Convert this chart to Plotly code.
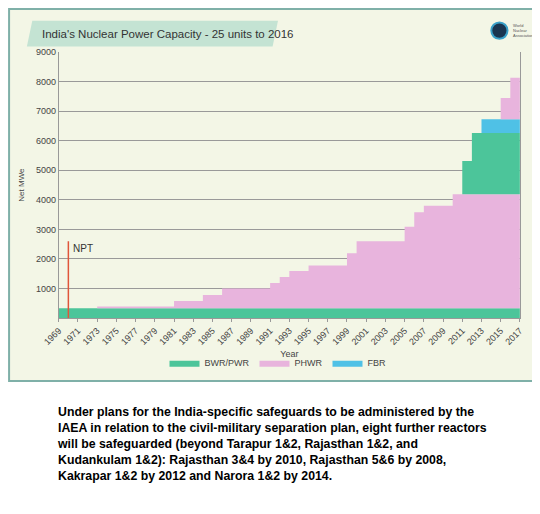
import plotly.graph_objects as go

# Years (step starts), stacked layer heights in MWe
years = list(range(1969, 2018))
phwr_total = {1969: 330, 1973: 385, 1981: 575, 1984: 780, 1986: 1000, 1991: 1180,
              1992: 1385, 1993: 1590, 1995: 1780, 1999: 2190, 2000: 2600,
              2005: 3090, 2006: 3580, 2007: 3800, 2010: 4190}
kk_top = {2011: 5315, 2012: 6260}
fbr_top = {2013: 6730}
phwr_top = {2015: 7450, 2016: 8135}


def step(d, start=0):
    out, cur = [], start
    for y in years:
        cur = d.get(y, cur)
        out.append(cur)
    return out


bwr_base = [330] * len(years)
phwr_main = [t - 330 for t in step(phwr_total, 330)]
kk = [max(0, t - 4190) for t in step(kk_top, 4190)]
fbr = [max(0, t - 6260) if y >= 2013 else 0 for y, t in zip(years, step(fbr_top, 6260))]
phwr_up = [max(0, t - 6730) if y >= 2015 else 0 for y, t in zip(years, step(phwr_top, 6730))]

green, pink, blue = '#4cc59a', '#e8b4dd', '#4fc1e6'
fig = go.Figure()
layers = [('BWR/PWR', bwr_base, green, True), ('PHWR', phwr_main, pink, True),
          ('BWR/PWR', kk, green, False), ('FBR', fbr, blue, True),
          ('PHWR', phwr_up, pink, False)]
for name, vals, col, show in layers:
    fig.add_trace(go.Scatter(x=years, y=vals, name=name, stackgroup='s', mode='lines',
                             line=dict(width=0, shape='hv', color=col), fillcolor=col,
                             showlegend=show))

# NPT marker
fig.add_trace(go.Scatter(x=[1970, 1970], y=[0, 2600], mode='lines',
                         line=dict(color='#e0553a', width=1.5), showlegend=False))

fig.update_layout(
    width=540, height=514, margin=dict(l=0, r=0, t=0, b=0),
    paper_bgcolor='white', plot_bgcolor='#f3f6e6',
    font=dict(family='Liberation Sans, Arial', size=9, color='#444'),
    xaxis=dict(domain=[0.094, 0.948], range=[1969, 2017], tickvals=list(range(1969, 2018, 2)),
               tickangle=-45, showgrid=False, zeroline=False, showline=True, linecolor='#999',
               ticks='outside', ticklen=3, tickcolor='#999', automargin=False,
               title=dict(text='Year', font=dict(size=9), standoff=4)),
    yaxis=dict(domain=[0.397, 0.914], range=[0, 9000], tickvals=list(range(1000, 10000, 1000)),
               gridcolor='#999', gridwidth=0.7, zeroline=False, showline=True, linecolor='#999',
               mirror=True, automargin=False, title=dict(text='Net MWe', font=dict(size=8), standoff=10)),
    legend=dict(orientation='h', x=0.5, xanchor='center', y=0.31, yanchor='middle',
                traceorder='normal', font=dict(size=9), bgcolor='rgba(0,0,0,0)'),
    shapes=[
        dict(type='rect', xref='paper', yref='paper', x0=0.002, x1=0.998, y0=1 - 373 / 514, y1=0.998,
             fillcolor='#f3f6e6', line=dict(color='#7fb0a8', width=2), layer='below'),
        dict(type='path', xref='paper', yref='paper',
             path='M 0.045 0.975 L 0.5 0.975 L 0.49 0.925 L 0.035 0.925 Z',
             fillcolor='#c4e3d3', line=dict(width=0), layer='below'),
        dict(type='circle', xref='paper', yref='paper', x0=0.895, x1=0.925, y0=0.94, y1=0.972,
             fillcolor='#1a3550', line=dict(color='#3aa0c8', width=2)),
    ],
)
fig.add_annotation(x=1970, y=2600, text='NPT', showarrow=False, xanchor='left', yanchor='top',
                   xshift=3, font=dict(size=10, color='#333'))
fig.add_annotation(xref='paper', yref='paper', x=0.06, y=0.95,
                   text="India's Nuclear Power Capacity - 25 units to 2016",
                   showarrow=False, xanchor='left', yanchor='middle', font=dict(size=11.5, color='#333'))
fig.add_annotation(xref='paper', yref='paper', x=0.932, y=0.956, text='World<br>Nuclear<br>Association',
                   showarrow=False, xanchor='left', yanchor='middle', align='left',
                   font=dict(size=4, color='#555'))
fig.add_annotation(xref='paper', yref='paper', x=0.087, y=1 - 395 / 514,
                   text='Under plans for the India-specific safeguards to be administered by the<br>'
                        'IAEA in relation to the civil-military separation plan, eight further reactors<br>'
                        'will be safeguarded (beyond Tarapur 1&2, Rajasthan 1&2, and<br>'
                        'Kudankulam 1&2): Rajasthan 3&4 by 2010, Rajasthan 5&6 by 2008,<br>'
                        'Kakrapar 1&2 by 2012 and Narora 1&2 by 2014.',
                   showarrow=False, xanchor='left', yanchor='top', align='left',
                   font=dict(family='Liberation Sans, Arial', size=12.3, color='black', weight='bold'))
fig.write_html('out.html')
